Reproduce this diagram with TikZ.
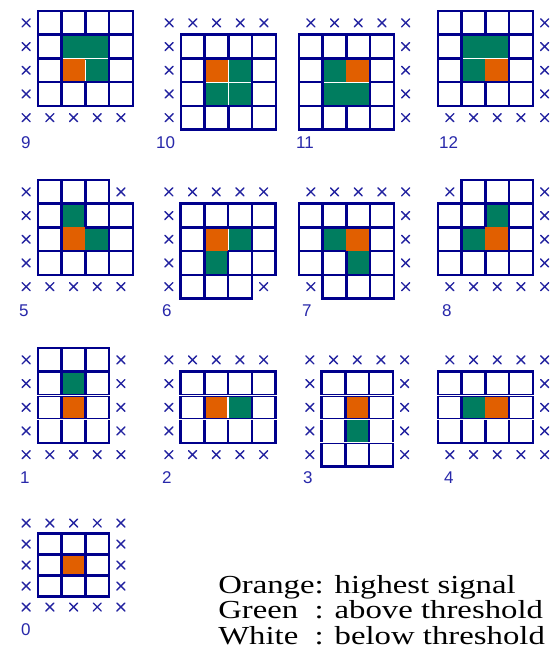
\documentclass[tikz,border=0pt]{standalone}
\usepackage{fontspec}
\setmainfont{Liberation Serif}
\newfontfamily\lblfont{Liberation Sans}
\usetikzlibrary{calc}
\definecolor{gridnavy}{RGB}{0,0,140}
\definecolor{crossblue}{RGB}{35,35,160}
\definecolor{labelblue}{RGB}{40,40,170}
\definecolor{cgreen}{RGB}{0,125,95}
\definecolor{corange}{RGB}{225,95,0}
\tikzset{
  cellline/.style={draw=gridnavy, line width=2.6pt},
  crossline/.style={draw=crossblue, line width=1.4pt, line cap=round},
  sepline/.style={draw=white, line width=1pt, shorten <=1.3pt, shorten >=1.3pt},
  stripline/.style={draw=white, line width=0.9pt},
  numlabel/.style={font=\lblfont\fontsize{17}{17}\selectfont, text=labelblue, anchor=west, inner sep=0pt},
  legend/.style={font=\fontsize{26}{26}\selectfont, anchor=base west, inner sep=0pt, xscale=1.26, transform shape}
}
\newcommand\gcell[2]{\draw[cellline] (#1,#2) rectangle ++(1,1);}
\newcommand\gcross[2]{\draw[crossline] ($(#1+.5,#2+.5)+(-4pt,-4pt)$) -- ++(8pt,8pt) ($(#1+.5,#2+.5)+(-4pt,4pt)$) -- ++(8pt,-8pt);}
\newcommand\cfill[7]{\fill[#1] ($(#2,#3)+(#4pt,-#5pt)$) rectangle ($(#2+1,#3+1)+(-#6pt,#7pt)$);}
\newcommand\stripsep[3]{\draw[stripline] ($(#1,#3)+(-1.5pt,0)$) -- ($(#2,#3)+(1.5pt,0)$);}
\begin{document}
\begin{tikzpicture}[x=1pt,y=-1pt]
\fill[white] (0,0) rectangle (554,659);
\useasboundingbox (0,0) rectangle (554,659);

% ---------- panel 9
\begin{scope}[xshift=14.3pt,yshift=-11pt,x=23.7pt,y=-23.7pt]
\foreach \c in {1,...,4} \foreach \r in {0,...,3} {\gcell{\c}{\r}}
\cfill{cgreen}{2}{1}{1.3}{1.3}{0}{0}
\cfill{cgreen}{3}{1}{0}{1.3}{1.3}{0}
\cfill{corange}{2}{2}{1.3}{0}{0}{1.3}
\cfill{cgreen}{3}{2}{0}{0}{1.3}{1.3}
\draw[sepline] (2,2) -- (4,2);
\draw[sepline] (3,2) -- (3,3);
\foreach \r in {0,...,4} {\gcross{0}{\r}}
\foreach \c in {1,...,4} {\gcross{\c}{4}}
\end{scope}
\node[numlabel] (l9) at (21,143) {9};

% ---------- panel 10
\begin{scope}[xshift=157.3pt,yshift=-11pt,x=23.7pt,y=-23.7pt]
\foreach \c in {1,...,4} \foreach \r in {1,...,4} {\gcell{\c}{\r}}
\cfill{corange}{2}{2}{1.3}{1.3}{0}{0}
\cfill{cgreen}{3}{2}{0}{1.3}{1.3}{0}
\cfill{cgreen}{2}{3}{1.3}{0}{0}{1.3}
\cfill{cgreen}{3}{3}{0}{0}{1.3}{1.3}
\draw[sepline] (2,3) -- (4,3);
\draw[sepline] (3,2) -- (3,4);
\foreach \c in {0,...,4} {\gcross{\c}{0}}
\foreach \r in {1,...,4} {\gcross{0}{\r}}
\end{scope}
\node[numlabel] (l10) at (156,143) {10};

% ---------- panel 11
\begin{scope}[xshift=299pt,yshift=-11pt,x=23.7pt,y=-23.7pt]
\foreach \c in {0,...,3} \foreach \r in {1,...,4} {\gcell{\c}{\r}}
\cfill{cgreen}{1}{2}{1.3}{1.3}{0}{0}
\cfill{corange}{2}{2}{0}{1.3}{1.3}{0}
\cfill{cgreen}{1}{3}{1.3}{0}{0}{1.3}
\cfill{cgreen}{2}{3}{0}{0}{1.3}{1.3}
\draw[sepline] (1,3) -- (3,3);
\foreach \c in {0,...,4} {\gcross{\c}{0}}
\foreach \r in {1,...,4} {\gcross{4}{\r}}
\end{scope}
\node[numlabel] (l11) at (296,143) {11};

% ---------- panel 12
\begin{scope}[xshift=438pt,yshift=-11pt,x=23.7pt,y=-23.7pt]
\foreach \c in {0,...,3} \foreach \r in {0,...,3} {\gcell{\c}{\r}}
\cfill{cgreen}{1}{1}{1.3}{1.3}{0}{0}
\cfill{cgreen}{2}{1}{0}{1.3}{1.3}{0}
\cfill{cgreen}{1}{2}{1.3}{0}{0}{1.3}
\cfill{corange}{2}{2}{0}{0}{1.3}{1.3}
\draw[sepline] (1,2) -- (3,2);
\foreach \r in {0,...,3} {\gcross{4}{\r}}
\foreach \c in {0,...,4} {\gcross{\c}{4}}
\end{scope}
\node[numlabel] (l12) at (439,143) {12};

% ---------- panel 5
\begin{scope}[xshift=14.3pt,yshift=-180pt,x=23.7pt,y=-23.7pt]
\foreach \c in {1,...,3} {\gcell{\c}{0}}
\foreach \c in {1,...,4} \foreach \r in {1,...,3} {\gcell{\c}{\r}}
\cfill{cgreen}{2}{1}{1.3}{1.3}{1.3}{0}
\cfill{corange}{2}{2}{1.3}{0}{0}{1.3}
\cfill{cgreen}{3}{2}{0}{1.3}{1.3}{1.3}
\foreach \r in {0,...,3} {\gcross{0}{\r}}
\gcross{4}{0}
\foreach \c in {0,...,4} {\gcross{\c}{4}}
\end{scope}
\node[numlabel] (l5) at (19,311) {5};

% ---------- panel 6
\begin{scope}[xshift=157pt,yshift=-180pt,x=23.7pt,y=-23.7pt]
\foreach \c in {1,...,4} \foreach \r in {1,...,3} {\gcell{\c}{\r}}
\foreach \c in {1,...,3} {\gcell{\c}{4}}
\cfill{corange}{2}{2}{1.3}{1.3}{0}{0}
\cfill{cgreen}{3}{2}{0}{1.3}{1.3}{1.3}
\cfill{cgreen}{2}{3}{1.3}{0}{1.3}{1.3}
\draw[sepline] (3,2) -- (3,3);
\foreach \c in {0,...,4} {\gcross{\c}{0}}
\foreach \r in {1,...,4} {\gcross{0}{\r}}
\gcross{4}{4}
\end{scope}
\node[numlabel] (l6) at (162,311) {6};

% ---------- panel 7
\begin{scope}[xshift=299pt,yshift=-180pt,x=23.7pt,y=-23.7pt]
\foreach \c in {0,...,3} \foreach \r in {1,...,3} {\gcell{\c}{\r}}
\foreach \c in {1,...,3} {\gcell{\c}{4}}
\cfill{cgreen}{1}{2}{1.3}{1.3}{0}{1.3}
\cfill{corange}{2}{2}{0}{1.3}{1.3}{0}
\cfill{cgreen}{2}{3}{1.3}{0}{1.3}{1.3}
\foreach \c in {0,...,4} {\gcross{\c}{0}}
\foreach \r in {1,...,4} {\gcross{4}{\r}}
\gcross{0}{4}
\end{scope}
\node[numlabel] (l7) at (302,311) {7};

% ---------- panel 8
\begin{scope}[xshift=438pt,yshift=-180pt,x=23.7pt,y=-23.7pt]
\foreach \c in {1,...,3} {\gcell{\c}{0}}
\foreach \c in {0,...,3} \foreach \r in {1,...,3} {\gcell{\c}{\r}}
\cfill{cgreen}{2}{1}{1.3}{1.3}{1.3}{0}
\cfill{cgreen}{1}{2}{1.3}{1.3}{0}{1.3}
\cfill{corange}{2}{2}{0}{0}{1.3}{1.3}
\gcross{0}{0}
\foreach \r in {0,...,3} {\gcross{4}{\r}}
\foreach \c in {0,...,4} {\gcross{\c}{4}}
\end{scope}
\node[numlabel] (l8) at (442,311) {8};

% ---------- panel 1
\begin{scope}[xshift=14.3pt,yshift=-348pt,x=23.7pt,y=-23.7pt]
\foreach \c in {1,...,3} \foreach \r in {0,...,3} {\gcell{\c}{\r}}
\cfill{cgreen}{2}{1}{1.3}{1.3}{1.3}{1.3}
\cfill{corange}{2}{2}{1.3}{1.3}{1.3}{1.3}
\stripsep{1}{4}{2}
\stripsep{1}{4}{3}
\foreach \r in {0,...,3} {\gcross{0}{\r}\gcross{4}{\r}}
\foreach \c in {0,...,4} {\gcross{\c}{4}}
\end{scope}
\node[numlabel] (l1) at (20,478) {1};

% ---------- panel 2
\begin{scope}[xshift=157pt,yshift=-348pt,x=23.7pt,y=-23.7pt]
\foreach \c in {1,...,4} \foreach \r in {1,...,3} {\gcell{\c}{\r}}
\cfill{corange}{2}{2}{1.3}{1.3}{0}{1.3}
\cfill{cgreen}{3}{2}{0}{1.3}{1.3}{1.3}
\draw[sepline, line width=1.8pt] (3,2) -- (3,3);
\stripsep{1}{5}{2}
\stripsep{1}{5}{3}
\foreach \c in {0,...,4} {\gcross{\c}{0}\gcross{\c}{4}}
\foreach \r in {1,...,3} {\gcross{0}{\r}}
\end{scope}
\node[numlabel] (l2) at (162,478) {2};

% ---------- panel 3
\begin{scope}[xshift=298pt,yshift=-348pt,x=23.7pt,y=-23.7pt]
\foreach \c in {1,...,3} \foreach \r in {1,...,4} {\gcell{\c}{\r}}
\cfill{corange}{2}{2}{1.3}{1.3}{1.3}{1.3}
\cfill{cgreen}{2}{3}{1.3}{1.3}{1.3}{1.3}
\stripsep{1}{4}{2}
\stripsep{1}{4}{3}
\stripsep{1}{4}{4}
\foreach \c in {0,...,4} {\gcross{\c}{0}}
\foreach \r in {1,...,4} {\gcross{0}{\r}\gcross{4}{\r}}
\end{scope}
\node[numlabel] (l3) at (303,478) {3};

% ---------- panel 4
\begin{scope}[xshift=438pt,yshift=-348pt,x=23.7pt,y=-23.7pt]
\foreach \c in {0,...,3} \foreach \r in {1,...,3} {\gcell{\c}{\r}}
\cfill{cgreen}{1}{2}{1.3}{1.3}{0}{1.3}
\cfill{corange}{2}{2}{0}{1.3}{1.3}{1.3}
\stripsep{0}{4}{2}
\stripsep{0}{4}{3}
\foreach \c in {0,...,4} {\gcross{\c}{0}\gcross{\c}{4}}
\foreach \r in {1,...,3} {\gcross{4}{\r}}
\end{scope}
\node[numlabel] (l4) at (444,478) {4};

% ---------- panel 0
\begin{scope}[xshift=14.3pt,yshift=-512.5pt,x=23.7pt,y=-21pt]
\foreach \c in {1,...,3} \foreach \r in {1,...,3} {\gcell{\c}{\r}}
\cfill{corange}{2}{2}{1.3}{1.3}{1.3}{1.3}
\foreach \c in {0,...,4} {\gcross{\c}{0}\gcross{\c}{4}}
\foreach \r in {1,...,3} {\gcross{0}{\r}\gcross{4}{\r}}
\end{scope}
\node[numlabel] (l0) at (21,630) {0};

% ---------- legend
\node[legend] (lo) at (218,593) {Orange: highest signal};
\node[legend] (lg) at (218,618.5) {Green\ \ : above threshold};
\node[legend] (lw) at (218,644) {White\ \ : below threshold};
\end{tikzpicture}
\end{document}
